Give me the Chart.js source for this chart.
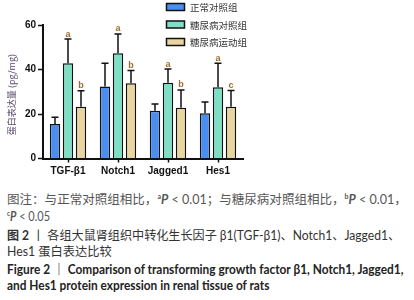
<!DOCTYPE html>
<html>
<head>
<meta charset="utf-8">
<script src="https://cdn.jsdelivr.net/npm/chart.js@4.4.1/dist/chart.umd.min.js"></script>
<style>
  html, body { margin: 0; padding: 0; background: #fff; }
  body { width: 414px; height: 300px; position: relative; overflow: hidden; }
  #wrap { position: absolute; left: 0; top: 0; width: 414px; height: 185px; }
  .cap { position: absolute; left: 7px; white-space: nowrap; font-family: Lato, "Noto Sans CJK SC", sans-serif;
         font-size: 12.5px; line-height: 17px; transform-origin: 0 50%; }
  .cap sup { font-size: 7px; vertical-align: 5px; line-height: 0; font-weight: bold; }
  .cap i { font-weight: bold; }
  .g { color: #555; }
  .d { color: #333; }
  .k { color: #222; font-weight: bold; }
</style>
</head>
<body>
<div id="wrap"><canvas id="c" width="414" height="185"></canvas></div>

<div class="cap g" style="top:190.5px" data-w="400">图注：与正常对照组相比，<sup>a</sup><i>P</i> &lt; 0.01；与糖尿病对照组相比，<sup>b</sup><i>P</i> &lt; 0.01，</div>
<div class="cap g" style="top:208px" data-w="43"><sup>c</sup><i>P</i> &lt; 0.05</div>
<div class="cap d" style="top:227px" data-w="393"><b>图 2</b> 丨 各组大鼠肾组织中转化生长因子 β1(TGF-β1)、Notch1、Jagged1、</div>
<div class="cap d" style="top:243px" data-w="105">Hes1 蛋白表达比较</div>
<div class="cap k" style="top:261px" data-w="396">Figure 2 ｜ Comparison of transforming growth factor β1, Notch1, Jagged1,</div>
<div class="cap k" style="top:276.5px" data-w="262">and Hes1 protein expression in renal tissue of rats</div>

<script>
// ---- data ----
const categories = ['TGF-β1', 'Notch1', 'Jagged1', 'Hes1'];
const seriesNames = ['正常对照组', '糖尿病对照组', '糖尿病运动组'];
const normalValues = [15.5, 32.4, 21.5, 20.3];
const normalErrors = [3.0, 10.4, 3.0, 5.1];
const diabeticValues = [42.8, 47.3, 34.1, 32.0];
const diabeticErrors = [10.9, 8.7, 6.1, 10.8];
const exerciseValues = [23.3, 33.8, 22.8, 23.3];
const exerciseErrors = [7.2, 5.7, 8.0, 7.3];
const normalMarks = ['', '', '', ''];
const diabeticMarks = ['a', 'a', 'a', 'a'];
const exerciseMarks = ['b', 'b', 'b', 'c'];
const yTickValues = [0, 20, 40, 60];
const yAxisTitle = '蛋白表达量 (pg/mg)';

const seriesColors = ['#4a8ff0', '#7ddfc3', '#e9d69e'];

const errorsBySeries = [normalErrors, diabeticErrors, exerciseErrors];
const marksBySeries = [normalMarks, diabeticMarks, exerciseMarks];

const errorBarPlugin = {
  id: 'errorBars',
  afterDatasetsDraw(chart) {
    const ctx = chart.ctx;
    const y = chart.scales.y;
    ctx.save();
    chart.data.datasets.forEach((ds, i) => {
      const meta = chart.getDatasetMeta(i);
      meta.data.forEach((el, j) => {
        const top = y.getPixelForValue(ds.data[j] + errorsBySeries[i][j]);
        ctx.strokeStyle = '#111';
        ctx.lineWidth = 1.5;
        ctx.beginPath();
        ctx.moveTo(el.x, el.y);
        ctx.lineTo(el.x, top);
        ctx.moveTo(el.x - 3.5, top);
        ctx.lineTo(el.x + 3.5, top);
        ctx.stroke();
        const m = marksBySeries[i][j];
        if (m) {
          ctx.fillStyle = '#9c6b2e';
          ctx.font = 'bold 9px "Liberation Sans", Arial, sans-serif';
          ctx.textAlign = 'center';
          ctx.textBaseline = 'alphabetic';
          ctx.fillText(m, el.x, top - 2.5);
        }
      });
    });
    ctx.restore();
  }
};

const decorPlugin = {
  id: 'decor',
  afterDraw(chart) {
    const ctx = chart.ctx;
    ctx.save();
    // y-axis title
    ctx.translate(12, 94.5);
    ctx.rotate(-Math.PI / 2);
    ctx.fillStyle = '#5b4a70';
    ctx.font = '9px "Noto Sans CJK SC", sans-serif';
    ctx.textAlign = 'center';
    ctx.textBaseline = 'middle';
    ctx.fillText(yAxisTitle, 0, 0);
    ctx.restore();

    // legend
    ctx.save();
    const rowY = [7, 24.5, 42];
    chart.data.datasets.forEach((ds, i) => {
      const cy = rowY[i];
      ctx.fillStyle = ds.backgroundColor;
      ctx.fillRect(166.5, cy - 3.5, 18, 7);
      ctx.strokeStyle = '#111';
      ctx.lineWidth = 1.5;
      ctx.strokeRect(166.5, cy - 3.5, 18, 7);
      ctx.fillStyle = '#333';
      ctx.font = '9.5px "Noto Sans CJK SC", sans-serif';
      ctx.textAlign = 'left';
      ctx.textBaseline = 'middle';
      ctx.fillText(ds.label, 190, cy + 0.5);
    });
    ctx.restore();
  }
};

new Chart(document.getElementById('c'), {
  type: 'bar',
  data: {
    labels: categories,
    datasets: [
      { label: seriesNames[0], data: normalValues, backgroundColor: seriesColors[0] },
      { label: seriesNames[1], data: diabeticValues, backgroundColor: seriesColors[1] },
      { label: seriesNames[2], data: exerciseValues, backgroundColor: seriesColors[2] }
    ].map(d => Object.assign(d, {
      borderColor: '#111', borderWidth: 1.5,
      categoryPercentage: 0.78, barPercentage: 0.8
    }))
  },
  options: {
    responsive: false,
    animation: false,
    devicePixelRatio: 1,
    layout: { padding: { top: 25, right: 171, left: 0, bottom: 0 } },
    plugins: { legend: { display: false }, tooltip: { enabled: false } },
    scales: {
      x: {
        grid: { display: true, drawOnChartArea: false, drawTicks: true, tickLength: 4, tickColor: '#111', tickWidth: 1.5, offset: false },
        border: { display: true, color: '#111', width: 2 },
        ticks: { color: '#111', padding: 3, font: { family: '"Liberation Sans", Arial, sans-serif', size: 10, weight: 'bold' } },
        afterFit(scale) { scale.height = 26.5; }
      },
      y: {
        min: 0, max: 60,
        afterBuildTicks(scale) { scale.ticks = yTickValues.map(v => ({ value: v })); },
        grid: { display: true, drawOnChartArea: false, drawTicks: true, tickLength: 5, tickColor: '#111', tickWidth: 1.5 },
        border: { display: true, color: '#111', width: 2 },
        ticks: { color: '#111', padding: 2, font: { family: '"Liberation Sans", Arial, sans-serif', size: 10, weight: 'bold' } },
        afterFit(scale) { scale.width = 43; }
      }
    }
  },
  plugins: [errorBarPlugin, decorPlugin]
});

// fit caption lines to their measured widths in the reference
document.querySelectorAll('.cap').forEach(el => {
  const target = parseFloat(el.dataset.w);
  const w = el.scrollWidth;
  if (w > 0) el.style.transform = 'scaleX(' + (target / w) + ')';
});
</script>
</body>
</html>
